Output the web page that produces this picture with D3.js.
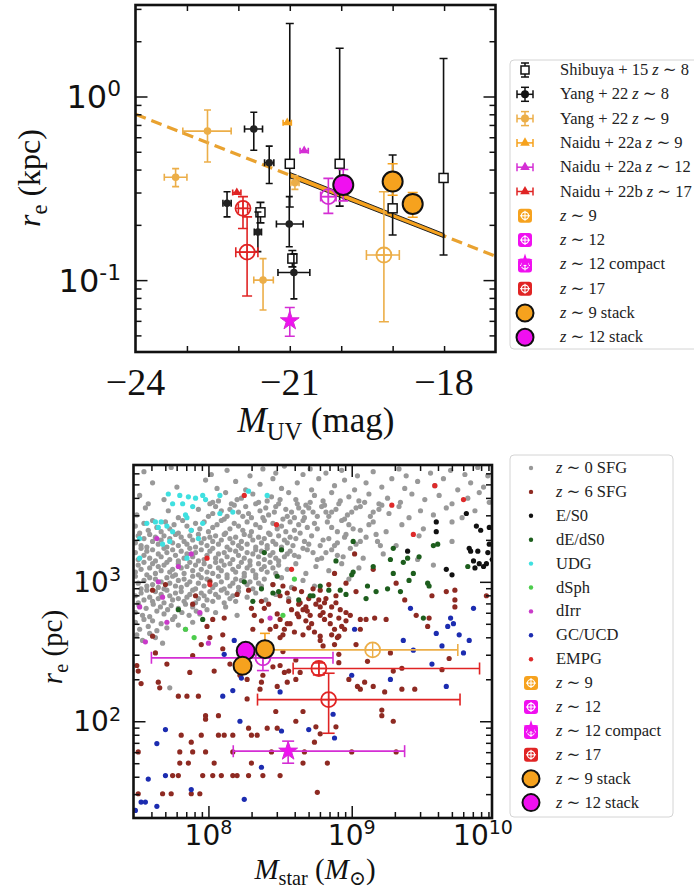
<!DOCTYPE html>
<html><head><meta charset="utf-8">
<script src="https://cdn.jsdelivr.net/npm/d3@7"></script>
<style>body{margin:0;background:#fff}svg{display:block}</style>
</head><body>
<svg id="fig" width="694" height="893"></svg>
<script>
// ---------------- Upper panel: r_e vs M_UV ----------------
// Shibuya+15 z~8 (r_e in kpc, y error only)
const shibM   = [-21.0, -20.03, -19.0, -18.01, -21.57, -20.95];
const shibR   = [0.43, 0.43, 0.246, 0.36, 0.234, 0.131];
const shibRlo = [0.25, 0.253, 0.176, 0.137, 0.205, 0.118];
const shibRhi = [2.5, 1.83, 0.48, 1.61, 0.265, 0.145];
// Yang+22 z~8
const yang8M   = [-21.70, -21.40, -22.22, -21.62, -21.01, -20.92];
const yang8Mlo = [-21.88, -21.49, -22.30, -21.69, -21.26, -21.23];
const yang8Mhi = [-21.53, -21.31, -22.14, -21.55, -20.74, -20.61];
const yang8R   = [0.665, 0.436, 0.262, 0.183, 0.202, 0.110];
const yang8Rlo = [0.51, 0.336, 0.221, 0.143, 0.152, 0.079];
const yang8Rhi = [0.82, 0.537, 0.303, 0.235, 0.285, 0.139];
// Yang+22 z~9
const yang9M   = [-22.60, -23.22, -21.52, -20.90];
const yang9Mlo = [-23.08, -23.44, -21.70, -20.98];
const yang9Mhi = [-22.14, -23.00, -21.32, -20.82];
const yang9R   = [0.648, 0.363, 0.100, 0.339];
const yang9Rlo = [0.44, 0.323, 0.0687, 0.312];
const yang9Rhi = [0.845, 0.405, 0.131, 0.37];
// Naidu+22a/b
const naidu9M = [-21.05],  naidu9R = [0.72];
const naidu12M = [-20.72], naidu12R = [0.507];
const naidu17M = [-22.03], naidu17R = [0.30];
// this work, individual objects
const z9M = [-19.17],  z9Mlo = [-19.51], z9Mhi = [-18.87], z9R = [0.137], z9Rlo = [0.0593], z9Rhi = [0.303];
const z12M = [-20.25], z12Mlo = [-20.40], z12Mhi = [-20.10], z12R = [0.285], z12Rlo = [0.231], z12Rhi = [0.358];
const z12cM = [-21.0], z12cR = [0.060], z12cRlo = [0.0495], z12cRhi = [0.071];
const z17M = [-21.91, -21.83], z17Mlo = [-22.00, -22.05], z17Mhi = [-21.82, -21.62];
const z17R = [0.246, 0.142], z17Rlo = [0.191, 0.082], z17Rhi = [0.285, 0.221];
// stacks
const st9M = [-19.0, -18.61], st9R = [0.344, 0.26], st9Rlo = [0.29, 0.22], st9Rhi = [0.43, 0.30];
const st12M = [-19.96], st12R = [0.33], st12Rlo = [0.27], st12Rhi = [0.40];
// size-luminance relation and fitted range
const fitM = [-24, -17], fitR = [0.80, 0.135];
const bandM = [-21, -18], bandLo = [0.361, 0.170], bandHi = [0.386, 0.179];
const muvTicks = [-24, -21, -18];

// ---------------- Lower panel: r_e vs M_star ----------------
// this work (M_star in Msun, r_e in pc)
const bz9M = [1.4e9], bz9Mlo = [2.5e8], bz9Mhi = [5.5e9], bz9R = [325];
const bz12M = [2.4e8], bz12Mlo = [4.0e7], bz12Mhi = [7.4e8], bz12R = [285], bz12Rlo = [231], bz12Rhi = [358];
const bz12cM = [3.6e8], bz12cMlo = [1.49e8], bz12cMhi = [2.34e9], bz12cR = [61], bz12cRlo = [50], bz12cRhi = [72];
const bz17M = [5.9e8, 6.9e8], bz17Mlo = [3.9e8, 2.2e8], bz17Mhi = [7.8e9, 5.7e9];
const bz17R = [239, 143], bz17Rlo = [215, 82], bz17Rhi = [262, 221];
const bst9M = [2.48e8, 1.73e8], bst9R = [329, 250], bst9Rhi = [427, 280];
const bst12M = [1.82e8], bst12R = [320];

// z~0 SFGs [log M_star, log r_e]
const sfg0 = [
 [7.55,3.79],[7.74,3.82],[8.02,3.77],[8.13,3.80],[8.29,3.76],[8.38,3.81],[8.47,3.78],[8.53,3.83],[8.66,3.77],[8.71,3.81],[8.82,3.78],[8.93,3.80],[9.04,3.76],[9.15,3.79],[9.33,3.81],[9.38,3.76],[9.55,3.78],[9.69,3.80],[9.79,3.77],[9.88,3.82],[9.95,3.76],
 [7.61,3.71],[7.78,3.68],[7.98,3.73],[8.06,3.67],[8.19,3.72],[8.26,3.66],[8.36,3.70],[8.45,3.74],[8.51,3.67],[8.62,3.71],[8.72,3.66],[8.77,3.74],[8.88,3.69],[8.95,3.73],[9.02,3.66],[9.10,3.71],[9.21,3.68],[9.28,3.74],[9.37,3.67],[9.46,3.72],[9.58,3.69],[9.64,3.74],[9.74,3.66],[9.83,3.71],[9.92,3.68],
 [7.52,3.62],[7.58,3.56],[7.69,3.59],[8.03,3.57],[8.12,3.64],[8.16,3.56],[8.23,3.60],[8.31,3.63],[8.35,3.57],[8.44,3.61],[8.49,3.56],[8.56,3.64],[8.61,3.59],[8.68,3.55],[8.74,3.62],[8.80,3.58],[8.86,3.64],[8.91,3.56],[8.98,3.61],[9.05,3.58],[9.12,3.63],[9.19,3.56],[9.25,3.60],[9.34,3.57],[9.42,3.63],[9.51,3.59],[9.61,3.62],[9.70,3.56],[9.81,3.60],[9.89,3.64],[9.96,3.57],
 [7.50,3.48],[7.56,3.53],[7.72,3.51],[7.79,3.46],[7.93,3.52],[8.00,3.47],[8.05,3.54],[8.11,3.45],[8.21,3.50],[8.26,3.54],[8.30,3.46],[8.36,3.51],[8.42,3.48],[8.47,3.54],[8.52,3.45],[8.58,3.50],[8.63,3.53],[8.67,3.46],[8.73,3.50],[8.79,3.54],[8.84,3.47],[8.89,3.52],[8.95,3.45],[9.00,3.50],[9.06,3.54],[9.13,3.47],[9.19,3.52],[9.26,3.49],[9.33,3.54],[9.40,3.46],[9.48,3.51],[9.57,3.48],[9.66,3.53],[9.77,3.46],[9.86,3.51],
 [8.03,3.49],[8.15,3.52],[8.24,3.47],[8.40,3.53],[8.55,3.47],[8.70,3.53],[8.82,3.50],
 [8.01,3.56],[8.07,3.58],[8.09,3.51],[8.13,3.47],[8.18,3.55],[8.20,3.59],[8.28,3.49],[8.33,3.56],[8.38,3.46],[8.41,3.58],[8.46,3.50],[8.50,3.59],[8.54,3.52],[8.60,3.46],[8.62,3.56],[8.66,3.50],[8.71,3.57],[8.76,3.47],[8.81,3.55],[8.86,3.50],[8.92,3.58],[8.97,3.48],[9.03,3.53],[9.09,3.57],[9.15,3.50],[9.21,3.55],
 [7.49,3.40],[7.52,3.35],[7.55,3.42],[7.58,3.37],[7.61,3.44],[7.64,3.39],[7.67,3.36],[7.70,3.43],[7.73,3.38],[7.76,3.41],[7.79,3.35],[7.82,3.44],[7.85,3.40],[7.88,3.37],[7.91,3.42],[7.94,3.38],[7.97,3.43],[8.00,3.36],[8.03,3.39],[8.06,3.41],[8.09,3.44],[8.12,3.35],[8.15,3.38],[8.18,3.42],[8.21,3.40],[8.24,3.37],[8.27,3.43],[8.30,3.36],[8.33,3.41],[8.36,3.39],[8.39,3.44],[8.42,3.35],[8.45,3.42],[8.48,3.38],[8.51,3.40],[8.54,3.36],[8.57,3.43],[8.60,3.37],[8.63,3.41],[8.66,3.44],[8.69,3.39],
 [8.76,3.38],[8.83,3.43],[8.90,3.36],[8.98,3.41],[9.06,3.37],[9.15,3.43],[9.24,3.36],[9.35,3.41],[9.50,3.38],[9.70,3.43],
 [8.64,3.35],[8.70,3.27],[8.74,3.42],[8.80,3.30],[8.86,3.39],[8.88,3.26],[8.93,3.44],[8.95,3.32],[9.01,3.38],[9.06,3.29],[9.12,3.41],[9.17,3.34],[9.20,3.26],
 [7.49,3.28],[7.51,3.33],[7.53,3.26],[7.55,3.31],[7.57,3.25],[7.59,3.34],[7.61,3.29],[7.63,3.32],[7.65,3.27],[7.67,3.30],[7.69,3.33],[7.71,3.25],[7.73,3.31],[7.75,3.28],[7.77,3.34],[7.79,3.26],[7.81,3.32],[7.83,3.29],[7.85,3.27],[7.87,3.33],[7.89,3.30],[7.91,3.25],[7.93,3.34],[7.95,3.28],[7.97,3.31],[7.99,3.26],[8.01,3.32],[8.03,3.29],[8.05,3.33],[8.07,3.27],[8.09,3.30],[8.11,3.34],[8.13,3.25],[8.15,3.31],[8.17,3.28],[8.19,3.32],[8.21,3.26],[8.23,3.29],[8.25,3.34],[8.27,3.27],[8.29,3.33],[8.31,3.30],[8.33,3.25],[8.35,3.32],[8.37,3.28],[8.39,3.31],[8.41,3.26],[8.43,3.34],[8.45,3.29],[8.47,3.27],[8.49,3.33],[8.51,3.25],[8.53,3.30],[8.55,3.28],[8.57,3.32],[8.59,3.26],[8.61,3.31],
 [8.67,3.29],[8.72,3.33],[8.78,3.26],[8.84,3.31],[8.90,3.28],[8.96,3.34],[9.03,3.27],[9.10,3.32],[9.18,3.29],[9.31,3.26],[9.47,3.33],[9.70,3.29],
 [7.49,3.21],[7.51,3.16],[7.53,3.24],[7.55,3.19],[7.57,3.22],[7.59,3.17],[7.61,3.23],[7.63,3.15],[7.65,3.20],[7.67,3.18],[7.69,3.24],[7.71,3.21],[7.73,3.16],[7.75,3.23],[7.77,3.19],[7.79,3.15],[7.81,3.22],[7.83,3.17],[7.85,3.20],[7.87,3.24],[7.89,3.18],[7.91,3.21],[7.93,3.15],[7.95,3.23],[7.97,3.16],[7.99,3.19],[8.01,3.22],[8.03,3.24],[8.05,3.17],[8.07,3.20],[8.09,3.15],[8.11,3.21],[8.13,3.18],[8.15,3.23],[8.17,3.16],[8.19,3.22],[8.21,3.19],[8.23,3.24],[8.25,3.17],[8.27,3.21],[8.29,3.15],[8.31,3.20],[8.33,3.23],[8.35,3.18],[8.37,3.22],[8.39,3.16],[8.41,3.24],[8.43,3.19],[8.45,3.21],[8.47,3.17],[8.49,3.15],[8.51,3.23],[8.53,3.18],[8.55,3.20],[8.57,3.22],
 [8.63,3.18],[8.69,3.23],[8.76,3.16],[8.82,3.21],[8.90,3.19],[8.99,3.24],[9.08,3.17],[9.22,3.20],[9.46,3.16],
 [8.60,3.19],[8.66,3.24],[8.73,3.21],[8.79,3.17],[8.86,3.23],[8.94,3.18],
 [7.49,3.07],[7.51,3.12],[7.53,3.09],[7.55,3.14],[7.57,3.05],[7.59,3.10],[7.61,3.13],[7.63,3.06],[7.65,3.11],[7.67,3.08],[7.69,3.12],[7.71,3.14],[7.73,3.07],[7.75,3.09],[7.77,3.05],[7.79,3.13],[7.81,3.10],[7.83,3.06],[7.85,3.11],[7.87,3.14],[7.89,3.08],[7.91,3.12],[7.93,3.05],[7.95,3.09],[7.97,3.13],[7.99,3.07],[8.01,3.11],[8.03,3.06],[8.05,3.14],[8.07,3.10],[8.09,3.08],[8.11,3.12],[8.13,3.05],[8.15,3.13],[8.17,3.09],[8.19,3.07],[8.21,3.11],[8.23,3.14],[8.25,3.06],[8.27,3.10],[8.29,3.12],[8.31,3.08],[8.33,3.05],[8.35,3.13],[8.37,3.09],[8.39,3.11],[8.41,3.07],[8.43,3.14],[8.45,3.10],[8.47,3.06],[8.49,3.12],
 [8.55,3.09],[8.61,3.13],[8.68,3.06],[8.75,3.11],[8.84,3.08],[8.93,3.13],[9.05,3.10],[9.57,3.12],
 [7.49,3.04],[7.51,2.99],[7.53,2.95],[7.55,3.01],[7.57,2.97],[7.59,3.03],[7.61,2.98],[7.63,3.02],[7.65,2.96],[7.67,3.00],[7.69,2.95],[7.71,3.03],[7.73,2.99],[7.75,3.04],[7.77,2.97],[7.79,3.01],[7.81,2.96],[7.83,3.02],[7.85,2.98],[7.87,3.00],[7.89,3.04],[7.91,2.95],[7.93,2.99],[7.95,3.03],[7.97,2.97],[7.99,3.02],[8.01,3.01],[8.03,2.96],[8.05,2.98],[8.07,3.04],[8.09,3.00],[8.11,2.95],[8.13,3.03],[8.15,2.97],[8.17,2.99],[8.19,3.02],[8.21,2.96],[8.23,3.01],[8.25,3.04],[8.27,2.98],[8.29,3.00],[8.31,2.95],[8.33,3.03],[8.35,2.99],[8.37,2.97],[8.39,3.02],
 [8.45,2.98],[8.51,3.03],[8.58,2.96],[8.66,3.01],[8.74,2.97],[8.98,3.02],
 [7.49,2.90],[7.51,2.85],[7.53,2.92],[7.55,2.87],[7.57,2.94],[7.59,2.89],[7.61,2.86],[7.63,2.93],[7.65,2.88],[7.67,2.91],[7.69,2.85],[7.71,2.94],[7.73,2.90],[7.75,2.87],[7.77,2.92],[7.79,2.88],[7.81,2.93],[7.83,2.86],[7.85,2.89],[7.87,2.91],[7.89,2.94],[7.91,2.85],[7.93,2.88],[7.95,2.92],[7.97,2.90],[7.99,2.87],[8.01,2.93],[8.03,2.86],[8.05,2.91],[8.07,2.89],[8.09,2.94],[8.11,2.85],[8.13,2.92],[8.15,2.88],[8.17,2.90],[8.19,2.86],[8.21,2.93],
 [8.27,2.89],[8.33,2.92],[8.40,2.87],[8.47,2.91],[8.56,2.88],
 [7.49,2.78],[7.515,2.83],[7.54,2.76],[7.565,2.81],[7.59,2.75],[7.615,2.84],[7.64,2.79],[7.665,2.82],[7.69,2.77],[7.715,2.80],[7.74,2.83],[7.765,2.75],[7.79,2.81],[7.815,2.78],[7.84,2.84],[7.865,2.76],[7.89,2.82],[7.915,2.79],[7.94,2.77],[7.965,2.83],[7.99,2.80],
 [8.05,2.78],[8.12,2.82],[8.20,2.76],
 [7.49,2.71],[7.52,2.66],[7.55,2.73],[7.58,2.68],[7.61,2.72],[7.64,2.65],[7.67,2.70],[7.71,2.67],[7.75,2.73],[7.79,2.69],[7.84,2.66],[7.89,2.71],
 [7.50,2.62],[7.54,2.58],[7.59,2.63],[7.63,2.60],[7.68,2.56],[7.73,2.24]];
// z~6 SFGs [log M_star, log r_e]
const sfg6 = [[7.63,2.49],[7.71,2.41],[7.51,2.36],[7.65,2.28],[7.66,2.24],[7.87,2.35],[7.89,2.47],[8.04,2.36],[7.79,2.18],[7.85,2.18],[7.93,2.18],[7.98,2.04],[7.98,2.015],[8.07,2.04],[7.81,1.90],[7.88,1.85],[7.89,1.78],[7.95,1.90],[8.07,1.90],[8.11,1.90],[8.17,1.90],[8.28,1.95],[8.30,1.90],[8.34,1.90],[8.41,1.95],[8.48,1.95],[8.27,2.16],[8.25,2.54],[8.36,2.23],[8.37,2.28],[8.38,2.33],[8.48,2.25],[8.53,2.35],[8.56,2.36],[8.55,2.28],[8.61,2.30],[8.45,2.39],[8.50,2.40],[8.64,2.35],[8.66,2.07],[8.61,2.00],[8.47,2.07],[7.80,1.78],[7.98,1.78],[8.04,1.70],[7.86,1.70],[7.80,1.70],[8.30,1.70],[8.17,1.78],[8.44,1.78],[8.67,1.78],[8.66,1.70],[7.75,1.61],[7.79,1.61],[7.96,1.61],[8.03,1.61],[8.09,1.61],[8.17,1.61],[8.20,1.61],[8.28,1.61],[8.38,1.61],[8.50,1.61],[7.68,1.48],[7.74,1.48],[7.88,1.48],[7.94,1.48],[7.51,1.48],[7.51,1.78],[8.61,2.44],[8.52,2.50],[8.10,2.52],[7.95,2.55],[7.50,2.40],[7.53,2.27],[8.15,2.41],[8.22,2.33],[8.27,2.30],
 [8.80,2.54],[8.88,2.55],[9.03,2.55],[9.27,2.49],[8.91,2.48],[8.91,2.42],[9.11,2.43],[9.29,2.36],[9.35,2.38],[9.68,2.45],[8.98,2.30],[9.04,2.25],[9.06,2.23],[9.09,2.28],[9.15,2.25],[9.23,2.21],[9.35,2.23],[9.44,2.23],[9.63,2.37],[9.21,2.08],[9.21,2.04],[9.29,2.00],[8.75,1.96],[8.78,1.91],[8.89,1.96],[8.74,1.85],[9.00,1.78],[9.31,1.78],[8.83,1.70],[8.76,1.49],
 [7.61,2.94],[7.70,2.98],[7.91,2.90],[8.01,3.00],[7.89,2.84],[7.99,2.68],[8.03,2.73],[8.11,2.74],[8.20,2.91],[8.28,2.94],[8.30,2.81],[8.37,2.86],[8.39,2.81],[8.32,2.76],[8.52,2.97],[8.55,2.92],[8.64,2.85],[8.66,2.80],[8.68,2.82],[8.71,2.76],[8.63,2.75],[8.57,2.70],[8.50,2.73],[8.53,2.66],[8.60,2.64],[8.70,2.67],[8.43,2.66],[8.50,2.60],[8.31,2.66],[8.10,2.62],[8.01,2.60],[7.61,2.61],
 [8.73,2.95],[8.78,2.94],[8.84,2.98],[8.77,2.87],[8.82,2.88],[8.89,2.90],[8.78,2.82],[8.86,2.82],[8.89,2.85],[8.92,2.80],[8.85,2.76],[8.78,2.76],[8.81,2.73],[8.91,2.74],[8.96,2.78],[8.99,2.76],[9.06,2.73],[9.10,2.73],[9.16,2.74],[9.24,2.73],[8.95,2.66],[8.86,2.62],[8.78,2.61],[8.91,2.61],[9.06,2.66],[8.96,2.99],[9.03,2.93],[8.88,3.06],[9.02,3.20],[9.15,3.09],[9.31,2.99],[9.37,2.87],[9.45,2.76],[9.54,2.74],[9.56,2.90],[9.66,2.93],[9.72,2.94],[9.72,2.87],[9.72,2.82],[9.53,2.68],[9.94,2.90],
 [8.45,2.98],[8.50,2.90],[8.56,2.86],[8.60,2.95],[8.65,2.93],[8.70,2.88],[8.75,2.84],[8.58,2.80],[8.62,2.77],[8.68,2.72],[8.72,2.70],[8.80,2.78],[8.85,2.70],[8.88,2.66],[8.55,2.70],[8.48,2.77],[8.42,2.84],[8.66,2.62],[8.74,2.64],[8.78,2.58],[8.90,2.60],[8.93,2.68],[8.96,2.72],[8.52,2.62],[8.47,2.68],[8.63,2.84],[8.69,2.79],[8.81,2.85],[8.37,2.72]];
const es0 = [[9.59,3.43],[9.59,3.36],[9.80,3.49],[9.87,3.40],[9.90,3.37],[9.96,3.39],[9.82,3.24],[9.83,3.22],[9.88,3.22],[9.95,3.21],[9.85,3.15],[9.89,3.13],[9.94,3.13],[9.86,3.10],[9.92,3.11],[9.66,3.09],[9.70,3.05],[9.39,3.22],[9.96,3.27],[9.98,3.16]];
const dEdS0 = [[8.39,3.21],[8.51,3.23],[8.25,3.00],[8.48,3.04],[8.37,2.95],[8.45,2.92],[8.63,2.87],[8.71,2.90],[7.96,2.73],[7.79,2.80],[8.31,2.86],[8.49,2.93],[9.01,3.29],[9.29,3.24],[9.39,3.17],[9.36,3.14],[9.47,3.18],[9.57,3.26],[9.27,3.16],[8.89,3.15],[9.01,3.07],[9.15,3.11],[9.29,3.06],[9.43,3.06],[9.40,3.01],[9.53,2.99],[9.54,2.97],[9.25,2.95],[9.11,2.97],[9.10,2.88],[9.17,2.93],[9.34,2.93],[8.96,2.91],[8.92,2.94],[8.84,2.94],[8.73,2.90],[8.78,2.97],[9.00,3.05],[9.81,3.11],[9.50,2.74],[9.60,3.27]];
const udg = [[7.72,3.63],[7.80,3.62],[7.86,3.61],[7.91,3.60],[7.96,3.62],[8.08,3.62],[7.75,3.56],[7.82,3.56],[7.89,3.54],[7.98,3.59],[8.17,3.50],[8.08,3.49],[7.84,3.48],[7.85,3.46],[7.96,3.42],[7.57,3.42],[7.63,3.43],[7.67,3.43],[7.71,3.40],[7.65,3.39],[7.75,3.36],[7.88,3.37],[7.93,3.31],[7.68,3.27],[7.52,3.31],[7.52,3.17],[7.85,3.17],[7.73,3.29],[8.28,3.65],[8.41,3.62]];
const dsph = [[7.84,2.66],[8.52,2.76],[7.90,2.60],[8.60,3.02]];
const dirr = [[7.64,3.31],[7.88,3.20],[7.79,3.11],[7.65,3.00],[7.68,2.89],[7.71,2.71],[7.94,2.78],[8.43,2.74],[7.56,2.57],[8.00,2.56],[7.52,2.82]];
const gcucd = [[9.41,2.81],[9.85,2.81],[9.69,2.74],[9.71,2.70],[9.67,2.68],[9.59,2.63],[9.75,2.62],[9.02,2.66],[9.36,2.58],[9.82,2.58],[9.63,2.54],[9.78,2.49],[9.56,2.41],[9.43,2.51],[9.00,2.33],[9.27,2.30],[9.66,2.25],[8.87,2.05],[8.88,1.88],[8.17,2.22],[8.10,2.18],[8.11,2.48],[8.22,2.00],[7.70,1.94],[7.64,1.84],[8.51,1.93],[8.70,1.94],[8.37,1.67],[7.58,1.585],[7.70,1.61],[7.88,1.51],[8.25,1.44],[7.53,1.42],[7.56,1.42],[7.64,1.39],[7.49,1.36],[8.50,2.21],[8.23,2.31],[8.18,2.58]];
const empg = [[7.99,3.17],[8.475,3.41],[8.25,3.62],[8.58,3.09],[9.58,3.69],[9.78,3.59],[9.28,3.55],[9.43,3.34],[8.01,2.98]];

// ---------------- drawing ----------------
const svg = d3.select('#fig');
const SERIF = "'Liberation Serif','DejaVu Serif',serif";
const SANS = "'DejaVu Sans',sans-serif";
const ORANGE = '#f6a21e', ORANGE_LT = '#ecae48', MAG = '#f010f0', MAG_E = '#d42ed4', RED = '#e02424';

const TOP = {l:135.5, r:495.5, t:5, b:352};
const BOT = {l:133.5, r:492, t:465, b:818};
const xT = d3.scaleLinear().domain([-24, -17]).range([TOP.l, TOP.r]);
const yT = d3.scaleLog().domain([0.0406, 3.15]).range([TOP.b, TOP.t]);
const xB = d3.scaleLog().domain([10 ** 7.477, 10 ** 9.979]).range([BOT.l, BOT.r]);
const yB = d3.scaleLog().domain([10 ** 1.306, 10 ** 3.838]).range([BOT.b, BOT.t]);

const defs = svg.append('defs');
function clip(id, a) {
  defs.append('clipPath').attr('id', id).append('rect')
    .attr('x', a.l).attr('y', a.t).attr('width', a.r - a.l).attr('height', a.b - a.t);
}
clip('cT', TOP); clip('cB', BOT);
const gT = svg.append('g').attr('clip-path', 'url(#cT)');
const gB = svg.append('g').attr('clip-path', 'url(#cB)');

function seg(g, x1, y1, x2, y2, c, w) {
  g.append('line').attr('x1', x1).attr('y1', y1).attr('x2', x2).attr('y2', y2)
    .attr('stroke', c).attr('stroke-width', w || 1.6);
}
// error bars with caps
function errbar(g, sx, sy, x, y, xlo, xhi, ylo, yhi, c, cap) {
  cap = cap || 4;
  const X = sx(x), Y = sy(y);
  if (xlo != null) {
    const a = sx(xlo), b = sx(xhi);
    seg(g, a, Y, b, Y, c); seg(g, a, Y - cap, a, Y + cap, c); seg(g, b, Y - cap, b, Y + cap, c);
  }
  if (ylo != null) {
    const a = sy(ylo), b = sy(yhi);
    seg(g, X, a, X, b, c); seg(g, X - cap, a, X + cap, a, c); seg(g, X - cap, b, X + cap, b, c);
  }
}
function oplus(g, X, Y, c, r) {
  g.append('circle').attr('cx', X).attr('cy', Y).attr('r', r).attr('fill', 'none')
    .attr('stroke', c).attr('stroke-width', 1.8);
  seg(g, X - r, Y, X + r, Y, c, 1.4); seg(g, X, Y - r, X, Y + r, c, 1.4);
}
function sym(g, type, size, X, Y, fill, stroke, sw) {
  g.append('path').attr('d', d3.symbol().type(type).size(size)())
    .attr('transform', `translate(${X},${Y})`).attr('fill', fill)
    .attr('stroke', stroke || 'none').attr('stroke-width', sw || 1);
}
function stack(g, X, Y, c, r) {
  g.append('circle').attr('cx', X).attr('cy', Y).attr('r', r).attr('fill', c)
    .attr('stroke', '#111').attr('stroke-width', 2);
}

// ----- upper panel content -----
gT.append('line').attr('x1', xT(fitM[0])).attr('y1', yT(fitR[0]))
  .attr('x2', xT(fitM[1])).attr('y2', yT(fitR[1]))
  .attr('stroke', '#e9a230').attr('stroke-width', 3.2).attr('stroke-dasharray', '11,6');
const band = [[bandM[0], bandHi[0]], [bandM[1], bandHi[1]], [bandM[1], bandLo[1]], [bandM[0], bandLo[0]]];
gT.append('path').attr('d', 'M' + band.map(p => [xT(p[0]), yT(p[1])].join(',')).join('L') + 'Z')
  .attr('fill', ORANGE).attr('stroke', '#222').attr('stroke-width', 1);

shibM.forEach((m, i) => errbar(gT, xT, yT, m, shibR[i], null, null, shibRlo[i], shibRhi[i], '#111'));
shibM.forEach((m, i) => gT.append('rect').attr('x', xT(m) - 4.5).attr('y', yT(shibR[i]) - 4.5)
  .attr('width', 9).attr('height', 9).attr('fill', '#fff').attr('stroke', '#111').attr('stroke-width', 1.5));

yang8M.forEach((m, i) => {
  errbar(gT, xT, yT, m, yang8R[i], yang8Mlo[i], yang8Mhi[i], yang8Rlo[i], yang8Rhi[i], '#111', 3.5);
  gT.append('circle').attr('cx', xT(m)).attr('cy', yT(yang8R[i])).attr('r', 3.8).attr('fill', '#222');
});
yang9M.forEach((m, i) => {
  errbar(gT, xT, yT, m, yang9R[i], yang9Mlo[i], yang9Mhi[i], yang9Rlo[i], yang9Rhi[i], ORANGE_LT, 3.5);
  gT.append('circle').attr('cx', xT(m)).attr('cy', yT(yang9R[i])).attr('r', 3.8).attr('fill', ORANGE_LT);
});
function naidu(ms, rs, c) {
  ms.forEach((m, i) => {
    errbar(gT, xT, yT, m, rs[i], m - 0.08, m + 0.08, null, null, c, 3);
    sym(gT, d3.symbolTriangle, 34, xT(m), yT(rs[i]), c);
  });
}
naidu(naidu9M, naidu9R, ORANGE); naidu(naidu12M, naidu12R, MAG_E); naidu(naidu17M, naidu17R, RED);

z9M.forEach((m, i) => { errbar(gT, xT, yT, m, z9R[i], z9Mlo[i], z9Mhi[i], z9Rlo[i], z9Rhi[i], ORANGE_LT, 5); oplus(gT, xT(m), yT(z9R[i]), ORANGE_LT, 7.5); });
z12M.forEach((m, i) => { errbar(gT, xT, yT, m, z12R[i], z12Mlo[i], z12Mhi[i], z12Rlo[i], z12Rhi[i], MAG_E, 5); oplus(gT, xT(m), yT(z12R[i]), MAG_E, 7.5); });
z17M.forEach((m, i) => { errbar(gT, xT, yT, m, z17R[i], z17Mlo[i], z17Mhi[i], z17Rlo[i], z17Rhi[i], RED, 5); oplus(gT, xT(m), yT(z17R[i]), RED, 7.5); });
z12cM.forEach((m, i) => { errbar(gT, xT, yT, m, z12cR[i], null, null, z12cRlo[i], z12cRhi[i], MAG_E, 5); sym(gT, d3.symbolStar, 110, xT(m), yT(z12cR[i]), MAG, MAG_E, 1); });
st9M.forEach((m, i) => errbar(gT, xT, yT, m, st9R[i], null, null, st9Rlo[i], st9Rhi[i], ORANGE, 5));
st12M.forEach((m, i) => errbar(gT, xT, yT, m, st12R[i], null, null, st12Rlo[i], st12Rhi[i], MAG_E, 5));
st12M.forEach((m, i) => stack(gT, xT(m), yT(st12R[i]), MAG, 10));
st9M.forEach((m, i) => stack(gT, xT(m), yT(st9R[i]), ORANGE, 10));

// ----- lower panel content -----
function dots(arr, c) {
  gB.append('g').selectAll('circle').data(arr).join('circle')
    .attr('cx', d => xB(10 ** d[0])).attr('cy', d => yB(10 ** d[1])).attr('r', 2.6).attr('fill', c);
}
dots(sfg0, '#999999');
dots(sfg6, '#8e2a22');
dots(es0, '#111');
dots(dEdS0, '#1d5e1d');
dots(udg, '#3fe0e0');
dots(dsph, '#4ccc4c');
dots(dirr, '#c93ac9');
dots(gcucd, '#1c2cb0');
dots(empg, '#de2a2a');

bz9M.forEach((m, i) => { errbar(gB, xB, yB, m, bz9R[i], bz9Mlo[i], bz9Mhi[i], null, null, ORANGE_LT, 6); oplus(gB, xB(m), yB(bz9R[i]), ORANGE_LT, 7.5); });
bz12M.forEach((m, i) => { errbar(gB, xB, yB, m, bz12R[i], bz12Mlo[i], bz12Mhi[i], bz12Rlo[i], bz12Rhi[i], MAG_E, 6); oplus(gB, xB(m), yB(bz12R[i]), MAG_E, 7.5); });
bz17M.forEach((m, i) => { errbar(gB, xB, yB, m, bz17R[i], bz17Mlo[i], bz17Mhi[i], bz17Rlo[i], bz17Rhi[i], RED, 6); oplus(gB, xB(m), yB(bz17R[i]), RED, 7.5); });
bz12cM.forEach((m, i) => { errbar(gB, xB, yB, m, bz12cR[i], bz12cMlo[i], bz12cMhi[i], bz12cRlo[i], bz12cRhi[i], MAG_E, 6); sym(gB, d3.symbolStar, 110, xB(m), yB(bz12cR[i]), MAG, MAG_E, 1); });
bst9M.forEach((m, i) => errbar(gB, xB, yB, m, bst9R[i], null, null, bst9R[i], bst9Rhi[i], ORANGE, 5));
bst12M.forEach((m, i) => stack(gB, xB(m), yB(bst12R[i]), MAG, 9));
bst9M.forEach((m, i) => stack(gB, xB(m), yB(bst9R[i]), ORANGE, 9));

// ----- axes: inward ticks on all four sides -----
function ticks(a, sx, sy, xv, xlen, yv, ylen) {
  const add = (axis, tx, ty) => {
    const g = svg.append('g').attr('transform', `translate(${tx},${ty})`).call(axis);
    g.select('.domain').remove();
    g.selectAll('line').attr('stroke', '#111').attr('stroke-width', 1.5);
  };
  xv.forEach((vals, k) => {
    add(d3.axisBottom(sx).tickValues(vals).tickSize(-xlen[k]).tickFormat(''), 0, a.b);
    add(d3.axisTop(sx).tickValues(vals).tickSize(-xlen[k]).tickFormat(''), 0, a.t);
  });
  yv.forEach((vals, k) => {
    add(d3.axisLeft(sy).tickValues(vals).tickSize(-ylen[k]).tickFormat(''), a.l, 0);
    add(d3.axisRight(sy).tickValues(vals).tickSize(-ylen[k]).tickFormat(''), a.r, 0);
  });
  svg.append('rect').attr('x', a.l).attr('y', a.t).attr('width', a.r - a.l).attr('height', a.b - a.t)
    .attr('fill', 'none').attr('stroke', '#111').attr('stroke-width', 2.6);
}
const minorsT = [0.05, 0.06, 0.07, 0.08, 0.09, 0.2, 0.3, 0.4, 0.5, 0.6, 0.7, 0.8, 0.9, 2, 3];
ticks(TOP, xT, yT, [[-23, -22, -21, -20, -19, -18]], [6], [[0.1, 1], minorsT], [12, 6]);
const minorsBx = [4e7, 5e7, 6e7, 7e7, 8e7, 9e7, 2e8, 3e8, 4e8, 5e8, 6e8, 7e8, 8e8, 9e8, 2e9, 3e9, 4e9, 5e9, 6e9, 7e9, 8e9, 9e9];
const minorsBy = [30, 40, 50, 60, 70, 80, 90, 200, 300, 400, 500, 600, 700, 800, 900, 2000, 3000, 4000, 5000, 6000];
ticks(BOT, xB, yB, [[1e8, 1e9], minorsBx], [12, 6], [[100, 1000], minorsBy], [12, 6]);

// ----- tick labels -----
muvTicks.forEach(v => svg.append('text').attr('x', xT(v)).attr('y', 395).attr('text-anchor', 'middle')
  .attr('font-family', SERIF).attr('font-size', 38).attr('fill', '#111').text('\u2212' + Math.abs(v)));
function pow10(x, y, exp, size, anchor) {
  const t = svg.append('text').attr('x', x).attr('y', y).attr('text-anchor', anchor)
    .attr('font-family', SANS).attr('font-size', size).attr('fill', '#111');
  t.append('tspan').text('10');
  t.append('tspan').attr('dy', -size * 0.38).attr('font-size', size * 0.68).text(exp);
}
[[1, '0'], [0.1, '-1']].forEach(([v, e]) => pow10(121, yT(v) + 12, e, 32, 'end'));
[[1000, '3'], [100, '2']].forEach(([v, e]) => pow10(121, yB(v) + 10, e, 28, 'end'));
[[1e8, '8'], [1e9, '9'], [1e10, '10']].forEach(([v, e]) => pow10(xB(v) + (e === '10' ? -12 : 0), 845, e, 28, 'middle'));

// ----- axis titles -----
function title(x, y, parts, size, rot) {
  const t = svg.append('text').attr('transform', `translate(${x},${y})` + (rot ? ' rotate(-90)' : ''))
    .attr('text-anchor', 'middle').attr('font-family', SERIF).attr('font-size', size).attr('fill', '#111');
  parts.forEach(p => {
    const s = t.append('tspan').text(p.t);
    if (p.it) s.attr('font-style', 'italic');
    if (p.sub) s.attr('font-size', size * 0.7).attr('dy', size * 0.22);
    if (p.up) s.attr('dy', -size * 0.22);
  });
}
title(316, 432, [{t: 'M', it: true}, {t: 'UV', sub: true}, {t: ' (mag)', up: true}], 35);
title(40, 178, [{t: 'r', it: true}, {t: 'e', sub: true}, {t: ' (kpc)', up: true}], 32, true);
title(315, 879, [{t: 'M', it: true}, {t: 'star', sub: true}, {t: ' (', up: true}, {t: 'M', it: true}, {t: '\u2299', sub: true}, {t: ')', up: true}], 29);
title(62, 647, [{t: 'r', it: true}, {t: 'e', sub: true}, {t: ' (pc)', up: true}], 29, true);

// ----- legends -----
function legendBox(x, y, w, h) {
  svg.append('rect').attr('x', x).attr('y', y).attr('width', w).attr('height', h).attr('rx', 4)
    .attr('fill', '#fff').attr('stroke', '#d4d4d4').attr('stroke-width', 1);
}
legendBox(510, 60, 200, 289);
legendBox(510, 455, 163, 362);
const lg = svg.append('g');
function legendText(x, y, parts) {
  const t = lg.append('text').attr('x', x).attr('y', y + 5).attr('font-family', SERIF)
    .attr('font-size', 16.5).attr('fill', '#222');
  parts.forEach(p => { const s = t.append('tspan').text(p[0]); if (p[1]) s.attr('font-style', 'italic'); });
}
function boxPlus(X, Y, c) {
  lg.append('rect').attr('x', X - 7).attr('y', Y - 7).attr('width', 14).attr('height', 14).attr('rx', 3).attr('fill', c);
  lg.append('circle').attr('cx', X).attr('cy', Y).attr('r', 3.6).attr('fill', 'none').attr('stroke', '#fff').attr('stroke-width', 1.2);
  seg(lg, X - 5, Y, X + 5, Y, '#fff', 1.1); seg(lg, X, Y - 5, X, Y + 5, '#fff', 1.1);
}
function crossBar(X, Y, c, h, v) {
  if (h) { seg(lg, X - 8, Y, X + 8, Y, c, 1.5); seg(lg, X - 8, Y - 4, X - 8, Y + 4, c, 1.5); seg(lg, X + 8, Y - 4, X + 8, Y + 4, c, 1.5); }
  if (v) { seg(lg, X, Y - 7, X, Y + 7, c, 1.5); seg(lg, X - 4, Y - 7, X + 4, Y - 7, c, 1.5); seg(lg, X - 4, Y + 7, X + 4, Y + 7, c, 1.5); }
}
const topLegend = [
  ['Shibuya + 15 ', 'z', ' \u223c 8'], ['Yang + 22 ', 'z', ' \u223c 8'], ['Yang + 22 ', 'z', ' \u223c 9'],
  ['Naidu + 22a ', 'z', ' \u223c 9'], ['Naidu + 22a ', 'z', ' \u223c 12'], ['Naidu + 22b ', 'z', ' \u223c 17'],
  ['', 'z', ' \u223c 9'], ['', 'z', ' \u223c 12'], ['', 'z', ' \u223c 12 compact'], ['', 'z', ' \u223c 17'],
  ['', 'z', ' \u223c 9 stack'], ['', 'z', ' \u223c 12 stack']];
topLegend.forEach((p, i) => {
  const Y = 70 + i * 24.3, X = 525;
  legendText(560, Y, [[p[0]], [p[1], true], [p[2]]]);
  if (i === 0) { crossBar(X, Y, '#111', false, true); lg.append('rect').attr('x', X - 4).attr('y', Y - 4).attr('width', 8).attr('height', 8).attr('fill', '#fff').attr('stroke', '#111').attr('stroke-width', 1.5); }
  if (i === 1 || i === 2) { const c = i === 1 ? '#111' : ORANGE_LT; crossBar(X, Y, c, true, true); lg.append('circle').attr('cx', X).attr('cy', Y).attr('r', 4).attr('fill', c); }
  if (i >= 3 && i <= 5) { const c = [ORANGE, MAG_E, RED][i - 3]; crossBar(X, Y, c, true, false); sym(lg, d3.symbolTriangle, 40, X, Y, c); }
  if (i === 6) boxPlus(X, Y, ORANGE);
  if (i === 7) boxPlus(X, Y, MAG);
  if (i === 8) { boxPlus(X, Y + 1, MAG); sym(lg, d3.symbolStar, 70, X, Y - 3, MAG); }
  if (i === 9) boxPlus(X, Y, RED);
  if (i === 10) stack(lg, X, Y, ORANGE, 8.5);
  if (i === 11) stack(lg, X, Y, MAG, 8.5);
});

const botLegend = [
  [['', 'z', ' \u223c 0 SFG'], '#999999'], [['', 'z', ' \u223c 6 SFG'], '#8e2a22'], [['E/S0'], '#111'],
  [['dE/dS0'], '#1d5e1d'], [['UDG'], '#3fe0e0'], [['dSph'], '#4ccc4c'], [['dIrr'], '#c93ac9'],
  [['GC/UCD'], '#1c2cb0'], [['EMPG'], '#de2a2a'],
  [['', 'z', ' \u223c 9'], 'b9'], [['', 'z', ' \u223c 12'], 'b12'], [['', 'z', ' \u223c 12 compact'], 'bc'],
  [['', 'z', ' \u223c 17'], 'b17'], [['', 'z', ' \u223c 9 stack'], 's9'], [['', 'z', ' \u223c 12 stack'], 's12']];
botLegend.forEach(([p, c], i) => {
  const Y = 468 + i * 23.9, X = 531;
  legendText(556, Y, p.length === 1 ? [[p[0]]] : [[p[0]], [p[1], true], [p[2]]]);
  if (c[0] === '#') lg.append('circle').attr('cx', X).attr('cy', Y).attr('r', 2.2).attr('fill', c);
  else if (c === 'b9') boxPlus(X, Y, ORANGE);
  else if (c === 'b12') boxPlus(X, Y, MAG);
  else if (c === 'bc') { boxPlus(X, Y + 1, MAG); sym(lg, d3.symbolStar, 70, X, Y - 3, MAG); }
  else if (c === 'b17') boxPlus(X, Y, RED);
  else if (c === 's9') stack(lg, X, Y, ORANGE, 8.5);
  else if (c === 's12') stack(lg, X, Y, MAG, 8.5);
});
</script></body></html>
